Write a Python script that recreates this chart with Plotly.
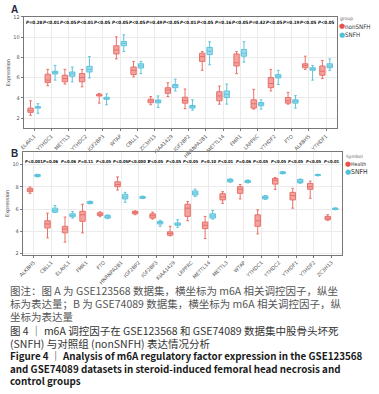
import plotly.graph_objects as go

# ---------------- Panel A (GSE123568) ----------------
genes_a = ["ELAVL1", "YTHDC1", "METTL3", "YTHDC2", "IGF2BP3", "WTAP", "CBLL1", "ZC3H13",
           "KIAA1429", "IGF2BP2", "HNRNPA2B1", "METTL14", "FMR1", "LRPPRC", "YTHDF2",
           "FTO", "ALKBH5", "YTHDF1"]
pvals_a = ["P=0.28", "P<0.01", "P<0.05", "P<0.01", "P<0.05", "P<0.05", "P<0.05", "P=0.49",
           "P<0.05", "P<0.01", "P<0.05", "P=0.16", "P<0.05", "P=0.42", "P<0.05", "P=0.19",
           "P<0.05", "P<0.05"]
a_non_q1 = [2.58, 5.52, 5.59, 5.59, 4.20, 8.34, 6.30, 3.53, 4.46, 3.49, 7.60, 3.72, 7.15, 3.00, 5.01, 3.49, 6.98, 6.24]
a_non_med = [2.75, 5.76, 5.91, 6.01, 4.27, 8.73, 6.73, 3.72, 4.79, 3.75, 8.09, 4.20, 7.47, 3.43, 5.43, 3.72, 7.21, 6.63]
a_non_q3 = [3.00, 6.34, 6.24, 6.40, 4.36, 9.15, 7.05, 3.88, 5.01, 4.07, 8.41, 4.62, 8.34, 3.82, 6.01, 4.04, 7.37, 7.15]
a_non_lo = [2.29, 5.20, 5.37, 5.10, 3.49, 7.85, 6.08, 3.33, 4.14, 2.94, 6.73, 3.39, 6.40, 2.90, 4.69, 3.39, 6.82, 5.91]
a_non_hi = [3.72, 6.82, 6.82, 6.82, 4.45, 10.03, 7.60, 4.14, 5.50, 4.88, 8.57, 5.17, 8.57, 4.85, 6.82, 4.55, 8.12, 7.70]

a_snfh_q1 = [3.00, 6.37, 6.14, 6.56, 3.87, 9.15, 6.95, 3.52, 5.01, 3.00, 8.28, 4.04, 8.12, 3.23, 5.98, 3.49, 6.73, 6.98]
a_snfh_med = [3.05, 6.50, 6.37, 6.82, 3.97, 9.38, 7.15, 3.67, 5.20, 3.15, 8.60, 4.36, 8.41, 3.40, 6.15, 3.68, 6.85, 7.15]
a_snfh_q3 = [3.14, 6.63, 6.56, 7.12, 4.07, 9.57, 7.37, 3.80, 5.33, 3.25, 8.99, 4.69, 8.77, 3.55, 6.30, 3.82, 6.98, 7.37]
a_snfh_lo = [2.49, 5.76, 5.59, 5.98, 3.33, 8.57, 6.40, 3.07, 4.69, 2.80, 7.27, 3.39, 7.53, 2.90, 5.33, 3.00, 5.76, 6.73]
a_snfh_hi = [3.43, 7.21, 7.05, 8.09, 4.40, 10.22, 7.60, 4.20, 5.85, 3.82, 9.54, 5.37, 9.54, 3.82, 6.73, 4.23, 7.21, 7.85]

# ---------------- Panel B (GSE74089) ----------------
genes_b = ["ALKBH5", "CBLL1", "ELAVL1", "FMR1", "FTO", "HNRNPA2B1", "IGF2BP2", "IGF2BP3",
           "KIAA1429", "LRPPRC", "METTL14", "METTL3", "WTAP", "YTHDC1", "YTHDC2", "YTHDF1",
           "YTHDF2", "ZC3H13"]
pvals_b = ["P<0.001", "P=0.06", "P=0.06", "P=0.11", "P<0.05", "P<0.05", "P<0.000 1", "P<0.05",
           "P<0.05", "P<0.05", "P=0.10", "P<0.01", "P=0.06", "P<0.05", "P<0.05", "P<0.05",
           "P<0.05", "P<0.01"]
b_h_q1 = [7.57, 4.31, 3.87, 4.91, 5.44, 8.02, 5.58, 5.20, 3.66, 5.35, 4.25, 6.83, 7.42, 4.46, 8.25, 6.83, 7.78, 5.05]
b_h_med = [7.72, 4.67, 4.22, 5.49, 5.55, 8.22, 5.70, 5.41, 3.82, 6.09, 4.55, 7.10, 7.78, 4.95, 8.60, 7.22, 8.02, 5.20]
b_h_q3 = [7.87, 4.96, 4.46, 5.80, 5.67, 8.46, 5.80, 5.58, 3.96, 6.44, 4.84, 7.39, 8.02, 5.49, 8.76, 7.51, 8.31, 5.35]
b_h_lo = [7.42, 3.42, 3.04, 3.87, 5.32, 7.72, 5.50, 5.11, 3.60, 4.96, 3.36, 6.53, 6.92, 3.78, 7.78, 6.09, 6.98, 5.00]
b_h_hi = [8.00, 5.64, 5.29, 6.44, 5.76, 8.90, 5.85, 5.73, 4.46, 6.68, 5.35, 7.57, 8.22, 5.94, 8.84, 7.87, 8.52, 5.50]

b_s_q1 = [8.93, 5.73, 5.32, 6.51, 5.20, 6.92, 6.98, 4.67, 4.55, 7.27, 5.20, 8.46, 8.40, 6.92, 9.20, 8.37, 9.02, 5.97]
b_s_med = [9.02, 5.90, 5.45, 6.60, 5.30, 7.10, 7.05, 4.80, 4.65, 7.45, 5.39, 8.58, 8.50, 7.05, 9.28, 8.50, 9.07, 6.03]
b_s_q3 = [9.11, 6.09, 5.58, 6.68, 5.44, 7.33, 7.13, 4.90, 4.76, 7.63, 5.58, 8.69, 8.58, 7.18, 9.35, 8.67, 9.11, 6.09]
b_s_lo = [8.90, 5.70, 5.20, 6.48, 5.15, 6.62, 6.95, 4.46, 4.37, 7.13, 5.11, 8.42, 8.36, 6.88, 9.17, 8.33, 9.00, 5.95]
b_s_hi = [9.14, 6.33, 5.80, 6.72, 5.48, 7.51, 7.17, 5.00, 5.05, 7.80, 5.88, 8.72, 8.62, 7.22, 9.38, 8.71, 9.14, 6.11]

legend_a_title = "group"
legend_a_labels = ["nonSNFH", "SNFH"]
legend_b_title = "Symbol"
legend_b_labels = ["Health", "SNFH"]

caption_lines = [
    "图注：图 A 为 GSE123568 数据集，横坐标为 m6A 相关调控因子，纵坐",
    "标为表达量；B 为 GSE74089 数据集，横坐标为 m6A 相关调控因子，纵",
    "坐标为表达量",
    "图 4 ｜ m6A 调控因子在 GSE123568 和 GSE74089 数据集中股骨头坏死",
    "(SNFH) 与对照组 (nonSNFH) 表达情况分析",
    "Figure 4 ｜ Analysis of m6A regulatory factor expression in the GSE123568",
    "and GSE74089 datasets in steroid-induced femoral head necrosis and",
    "control groups",
]

RED_LINE = "#E8706A"
RED_FILL = "rgba(240,128,120,0.72)"
BLUE_LINE = "#5CC4DC"
BLUE_FILL = "rgba(120,205,228,0.72)"
RED_DOT = "#E8524A"
BLUE_DOT = "#4DC0DA"

W, H = 379, 394
def px(x):
    return x / W
def py(y):
    return 1 - y / H

fig = go.Figure()

def add_box(xs, q1, med, q3, lo, hi, name, line, fill, xa, ya, og):
    fig.add_trace(go.Box(
        x=xs, q1=q1, median=med, q3=q3, lowerfence=lo, upperfence=hi,
        name=name, offsetgroup=og, alignmentgroup=xa,
        line=dict(color=line, width=1), fillcolor=fill,
        xaxis=xa, yaxis=ya, showlegend=False, hoverinfo="skip",
    ))

add_box(genes_a, a_non_q1, a_non_med, a_non_q3, a_non_lo, a_non_hi, "nonSNFH", RED_LINE, RED_FILL, "x", "y", "a1")
add_box(genes_a, a_snfh_q1, a_snfh_med, a_snfh_q3, a_snfh_lo, a_snfh_hi, "SNFH", BLUE_LINE, BLUE_FILL, "x", "y", "a2")
add_box(genes_b, b_h_q1, b_h_med, b_h_q3, b_h_lo, b_h_hi, "Health", RED_LINE, RED_FILL, "x2", "y2", "b1")
add_box(genes_b, b_s_q1, b_s_med, b_s_q3, b_s_lo, b_s_hi, "SNFH", BLUE_LINE, BLUE_FILL, "x2", "y2", "b2")

grid = "#EBEBEB"
axis_common = dict(showline=True, linecolor="#777", linewidth=1, mirror=True,
                   gridcolor=grid, gridwidth=0.6, zeroline=False,
                   tickfont=dict(family="DejaVu Sans", size=5, color="#555"),
                   ticks="outside", ticklen=2, tickcolor="#777")
ytitle = dict(text="Expression", font=dict(family="DejaVu Sans", size=5, color="#444"), standoff=2)

fig.update_layout(
    width=W, height=H, margin=dict(l=0, r=0, t=0, b=0),
    paper_bgcolor="white", plot_bgcolor="white", showlegend=False,
    boxmode="group", boxgap=0.14, boxgroupgap=0.28,
    xaxis=dict(domain=[px(19), px(336)], anchor="y", tickangle=-45,
               categoryorder="array", categoryarray=genes_a, **axis_common),
    yaxis=dict(domain=[py(127), py(14)], anchor="x", range=[1.0, 12.0], dtick=2,
               title=ytitle, **axis_common),
    xaxis2=dict(domain=[px(18), px(341)], anchor="y2", tickangle=-45,
                categoryorder="array", categoryarray=genes_b, **axis_common),
    yaxis2=dict(domain=[py(255), py(151)], anchor="x2", range=[1.9, 11.13], dtick=2,
                title=ytitle, **axis_common),
)

def ptext(p):
    return "<i>P</i>" + p[1:].replace("<", "&lt;")

for g, p in zip(genes_a, pvals_a):
    fig.add_annotation(x=g, y=1.0, xref="x", yref="y domain", yanchor="top", yshift=-1,
                       text="<b>" + ptext(p) + "</b>", showarrow=False,
                       font=dict(family="DejaVu Sans Condensed", size=4.5, color="#111"))
for g, p in zip(genes_b, pvals_b):
    fig.add_annotation(x=g, y=1.0, xref="x2", yref="y2 domain", yanchor="top", yshift=-5,
                       text="<b>" + ptext(p) + "</b>", showarrow=False,
                       font=dict(family="DejaVu Sans Condensed", size=4.2, color="#111"))

# panel letters
letter_font = dict(family="Liberation Sans", size=10, color="#1F2A44")
fig.add_annotation(x=px(4), y=py(7), xref="paper", yref="paper", text="<b>A</b>", showarrow=False,
                   xanchor="left", yanchor="middle", font=letter_font)
fig.add_annotation(x=px(4), y=py(152), xref="paper", yref="paper", text="<b>B</b>", showarrow=False,
                   xanchor="left", yanchor="middle", font=letter_font)

# legends (drawn as text)
def legend_block(title, labels, x0, ytitle_px, ys, label_sizes):
    fig.add_annotation(x=px(x0 - 3), y=py(ytitle_px), xref="paper", yref="paper", text=title,
                       showarrow=False, xanchor="left", yanchor="middle", borderpad=0,
                       font=dict(family="DejaVu Sans", size=4.5, color="#666"))
    for lab, yy, col, sz in zip(labels, ys, [RED_DOT, BLUE_DOT], label_sizes):
        fig.add_annotation(x=px(x0), y=py(yy), xref="paper", yref="paper", text="●",
                           showarrow=False, xanchor="center", yanchor="middle", borderpad=0,
                           font=dict(family="DejaVu Sans", size=7, color=col))
        fig.add_annotation(x=px(x0 + 2.5), y=py(yy), xref="paper", yref="paper", text=lab,
                           showarrow=False, xanchor="left", yanchor="middle", borderpad=0,
                           font=dict(family="DejaVu Sans Condensed", size=sz, color="#333"))

legend_block(legend_a_title, legend_a_labels, 341.5, 15.5, [23.5, 32], [6.2, 6.2])
legend_block(legend_b_title, legend_b_labels, 347.5, 155.5, [163, 171], [5.2, 6.8])

# caption
cap_colors = ["#555555", "#555555", "#555555", "#333333", "#333333", "#1a1a1a", "#1a1a1a", "#1a1a1a"]
cap_bold = [False, False, False, False, False, True, True, True]
cap_size = [10.5, 10.5, 10.5, 10.5, 10.5, 9.8, 9.8, 9.8]
cap_y = [291, 304.5, 317.5, 331.5, 344.5, 357.5, 370.5, 383]
for txt, col, b, sz, yy in zip(caption_lines, cap_colors, cap_bold, cap_size, cap_y):
    fig.add_annotation(x=px(4), y=py(yy), xref="paper", yref="paper",
                       text=("<b>" + txt + "</b>") if b else txt, showarrow=False,
                       xanchor="left", yanchor="middle", borderpad=0,
                       font=dict(family="Noto Sans CJK SC", size=sz, color=col))

fig.write_html("out.html", config={"displayModeBar": False},
               post_script="document.body.style.margin='0px';document.body.style.overflow='hidden';")
